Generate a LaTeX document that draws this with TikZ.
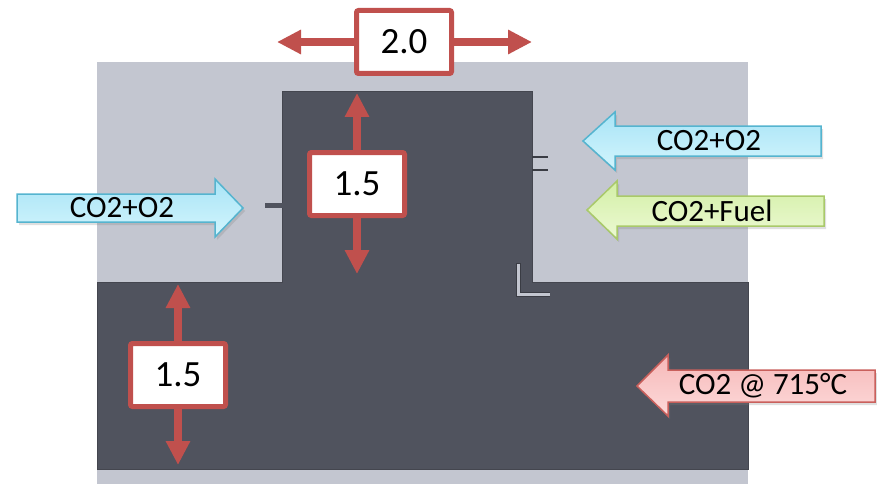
\documentclass[tikz,border=0pt]{standalone}
\usepackage{fontspec}
\setmainfont{Carlito}
\usetikzlibrary{arrows.meta,shadows}
\definecolor{lightbg}{HTML}{C3C6D0}
\definecolor{darkbody}{HTML}{50535E}
\definecolor{darkedge}{HTML}{44464F}
\definecolor{markcol}{HTML}{3A3C44}
\definecolor{dimred}{HTML}{C0504D}
\definecolor{cyanedge}{HTML}{55B4CF}
\definecolor{cyantop}{HTML}{A8E4F6}
\definecolor{cyanbot}{HTML}{D3F5FD}
\definecolor{greenedge}{HTML}{A9C96A}
\definecolor{greentop}{HTML}{D3EFA6}
\definecolor{greenbot}{HTML}{ECF9D3}
\definecolor{pinkedge}{HTML}{C9605C}
\definecolor{pinktop}{HTML}{F6B8B8}
\definecolor{pinkbot}{HTML}{FDDADA}
\tikzset{
  dimbox/.style={draw=dimred, line width=5pt, fill=white, rounded corners=2pt,
    minimum width=95pt, minimum height=63pt, inner sep=0pt,
    font=\fontsize{37}{40}\selectfont},
  dimarrow/.style={draw=dimred, line width=8pt, -{Triangle[width=23pt,length=24pt]}},
  blockshadow/.style={drop shadow={shadow xshift=2pt, shadow yshift=-3pt, opacity=0.25}},
  cyanarrow/.style={draw=cyanedge, line width=1.5pt, top color=cyantop, bottom color=cyanbot, blockshadow},
  greenarrow/.style={draw=greenedge, line width=1.5pt, top color=greentop, bottom color=greenbot, blockshadow},
  pinkarrow/.style={draw=pinkedge, line width=1.5pt, top color=pinktop, bottom color=pinkbot, blockshadow},
  arrtext/.style={inner sep=0pt, font=\fontsize{31}{34}\selectfont}
}
\begin{document}
\begin{tikzpicture}[x=1pt,y=-1pt]
\useasboundingbox (0,0) rectangle (877,484);
% background domain
\fill[lightbg] (97,62) rectangle (748,484);
% dark T-shaped region
\draw[fill=darkbody, draw=darkedge, line width=1pt]
  (282,92) -- (532,92) -- (532,282) -- (748,282) -- (748,469) -- (97,469) -- (97,282) -- (282,282) -- cycle;
% small marks
\draw[darkbody, line width=5pt] (265,205) -- (283,205);
\draw[markcol, line width=2pt] (532,157) -- (548,157) (532,170) -- (548,170);
\draw[markcol, line width=5pt, miter limit=10] (518,263) -- (518,294) -- (550,294);
\draw[lightbg, line width=3pt, miter limit=10] (518,263.5) -- (518,294) -- (549.5,294);
% block arrows
\path[cyanarrow] (17,194) -- (215,194) -- (215,179) -- (243,208) -- (215,237) -- (215,222) -- (17,222) -- cycle;
\node[arrtext] (inL) at (122,208) {CO2+O2};
\path[cyanarrow] (821,126) -- (615,126) -- (615,112) -- (583,141) -- (615,170) -- (615,156) -- (821,156) -- cycle;
\node[arrtext] (inR) at (709,141) {CO2+O2};
\path[greenarrow] (824,196) -- (617,196) -- (617,181) -- (587,210) -- (617,239) -- (617,226) -- (824,226) -- cycle;
\node[arrtext] (fuel) at (712,211) {CO2+Fuel};
\path[pinkarrow] (875,370) -- (668,370) -- (668,355) -- (637,386) -- (668,416) -- (668,402) -- (875,402) -- cycle;
\node[arrtext] (hot) at (763,386) {CO2 @ 715°C};
% dimension: width
\coordinate (wl) at (277,42);
\coordinate (wr) at (532,42);
\node[dimbox] (w) at (404,42) {2.0};
\draw[dimarrow] (w) -- (wl);
\draw[dimarrow] (w) -- (wr);
% dimension: upper height
\coordinate (ht) at (357,93);
\coordinate (hb) at (357,274);
\node[dimbox] (h) at (357,184) {1.5};
\draw[dimarrow] (h) -- (ht);
\draw[dimarrow] (h) -- (hb);
% dimension: lower height
\coordinate (lt) at (178,284);
\coordinate (lb) at (178,465);
\node[dimbox] (l) at (178,375) {1.5};
\draw[dimarrow] (l) -- (lt);
\draw[dimarrow] (l) -- (lb);
\end{tikzpicture}
\end{document}
